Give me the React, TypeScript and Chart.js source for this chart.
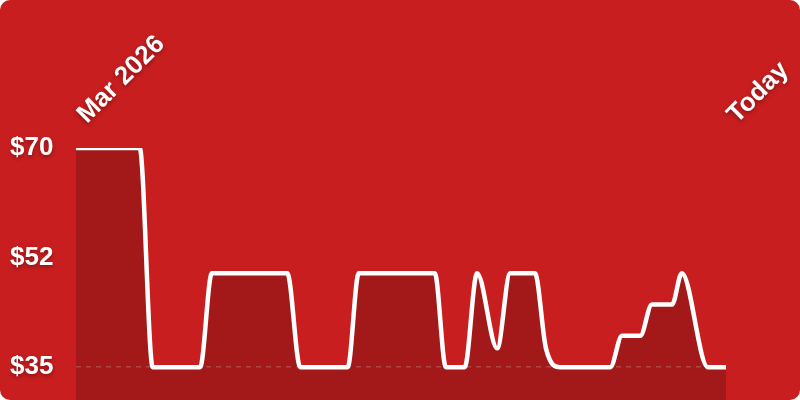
import React, { useEffect, useRef } from "react";
import { Chart, registerables } from "chart.js";

Chart.register(...registerables);

// Price history (x = days since start of range, y = price in $)
const xDays = [0, 9.8, 11.8, 19.1, 20.9, 32.5, 34.5, 41.8, 43.5, 55.2, 56.9, 59.8, 61.7, 64.8, 66.8, 70.6, 72.3, 74.5, 82.2, 84.0, 86.8, 88.6, 91.7, 93.2, 97.2, 100];
const prices = [70, 70, 35, 35, 50, 50, 35, 35, 50, 50, 35, 35, 50, 38, 50, 50, 38, 35, 35, 40, 40, 45, 45, 50, 35, 35];

const xTickValues = [0, 100];
const xTickLabels = ["Mar 2026", "Today"];
const yTickValues = [35, 52.5, 70];
const yTickLabels = ["$35", "$52", "$70"];
const yMin = 29.75;
const yMax = 70;

const FONT = "'Liberation Sans', Arial, Helvetica, sans-serif";

const shadowPlugin = {
  id: "labelShadow",
  beforeDraw(chart: any) {
    for (const id of ["x", "y"]) {
      const s: any = chart.scales[id];
      if (s && !s.__shadowPatched) {
        const orig = s.drawLabels.bind(s);
        s.drawLabels = (area: any) => {
          const ctx = chart.ctx;
          ctx.save();
          ctx.shadowColor = "rgba(0,0,0,0.35)";
          ctx.shadowBlur = 4;
          ctx.shadowOffsetX = 0;
          ctx.shadowOffsetY = 2;
          orig(area);
          ctx.restore();
        };
        s.__shadowPatched = true;
      }
    }
  },
};

export default function App() {
  const canvasRef = useRef<HTMLCanvasElement | null>(null);

  useEffect(() => {
    const canvas = canvasRef.current;
    if (!canvas) return;
    const chart = new Chart(canvas, {
      type: "line",
      data: {
        datasets: [
          {
            data: xDays.map((x, i) => ({ x, y: prices[i] })),
            borderColor: "#ffffff",
            borderWidth: 4.5,
            backgroundColor: "rgba(0,0,0,0.19)",
            fill: "start",
            pointRadius: 0,
            pointHoverRadius: 0,
            cubicInterpolationMode: "monotone",
            borderCapStyle: "round",
            borderJoinStyle: "round",
          },
        ],
      },
      options: {
        animation: false,
        responsive: true,
        maintainAspectRatio: false,
        layout: { padding: { left: 10, right: 74, top: 0, bottom: 0 } },
        plugins: { legend: { display: false }, tooltip: { enabled: false } },
        scales: {
          x: {
            type: "linear",
            position: "top",
            min: 0,
            max: 100,
            afterBuildTicks: (scale: any) => {
              scale.ticks = xTickValues.map((v) => ({ value: v }));
            },
            afterFit: (scale: any) => {
              scale.height = 148;
            },
            ticks: {
              autoSkip: false,
              minRotation: 45,
              maxRotation: 45,
              padding: 18,
              labelOffset: 28,
              color: "#ffffff",
              font: { family: FONT, size: 26, weight: "bold" },
              callback: (_v: any, i: number) => xTickLabels[i],
            },
            grid: { display: false, drawTicks: false },
            border: { display: false },
          },
          y: {
            type: "linear",
            min: yMin,
            max: yMax,
            afterBuildTicks: (scale: any) => {
              scale.ticks = yTickValues.map((v) => ({ value: v }));
            },
            afterFit: (scale: any) => {
              scale.width = 66;
              scale.paddingTop = 0;
              scale.paddingBottom = 0;
            },
            ticks: {
              crossAlign: "far",
              color: "#ffffff",
              font: { family: FONT, size: 26, weight: "bold" },
              callback: (_v: any, i: number) => yTickLabels[i],
            },
            grid: {
              drawTicks: false,
              lineWidth: 1.5,
              color: (ctx: any) => (ctx.tick && ctx.tick.value === 35 ? "rgba(255,255,255,0.25)" : "rgba(0,0,0,0)"),
            },
            border: { display: false, dash: [5, 5] },
          },
        },
      },
      plugins: [shadowPlugin],
    } as any);
    return () => chart.destroy();
  }, []);

  return (
    <div
      style={{
        position: "absolute",
        left: 0,
        top: 0,
        width: 800,
        height: 400,
        background: "#c91e1f",
        borderRadius: 10,
        overflow: "hidden",
      }}
    >
      <canvas ref={canvasRef} />
    </div>
  );
}
